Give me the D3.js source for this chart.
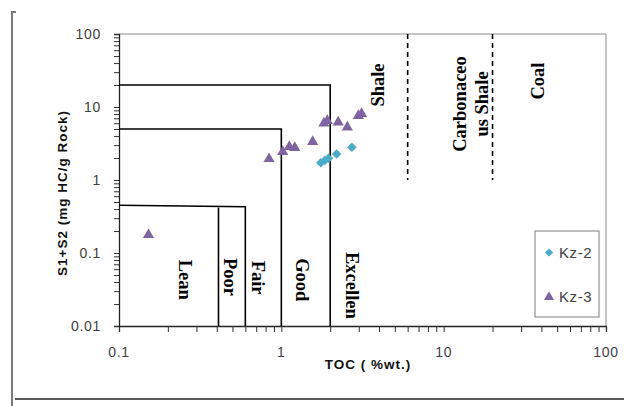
<!DOCTYPE html>
<html>
<head>
<meta charset="utf-8">
<script src="https://cdn.jsdelivr.net/npm/d3@7"></script>
<style>
  html, body { margin: 0; padding: 0; background: #fff; }
  svg { display: block; }
  .tick-lbl { font-family: "Liberation Sans", Arial, sans-serif; font-size: 14px; fill: #404040; letter-spacing: 0.7px; }
  .ax-title { font-family: "Liberation Sans", Arial, sans-serif; font-size: 13.5px; font-weight: bold; fill: #111; letter-spacing: 1px; }
  .zone { font-family: "Liberation Serif", "Times New Roman", serif; font-size: 18.5px; font-weight: bold; fill: #000; }
  .leg { font-family: "Liberation Sans", Arial, sans-serif; font-size: 15px; fill: #404040; letter-spacing: 0.6px; }
</style>
</head>
<body>
<div id="chart"></div>
<script>
/* TOC vs S1+S2 source-rock potential plot */

// samples: TOC (%wt.) and S1+S2 (mg HC/g rock)
var kz2Toc = [1.75, 1.85, 1.95, 2.19, 2.72];
var kz2S = [1.72, 1.85, 1.98, 2.27, 2.81];
var kz3Toc = [0.152, 0.84, 1.02, 1.12, 1.21, 1.56, 1.83, 1.92, 2.24, 2.55, 2.98, 3.12];
var kz3S = [0.177, 1.95, 2.44, 2.86, 2.77, 3.35, 5.98, 6.5, 6.17, 5.27, 7.6, 8.1];

// classification boundaries (TOC, S1+S2)
var solidBounds = [
  [[0.1, 20], [2, 20], [2, 0.01]],
  [[0.1, 5], [1, 5], [1, 0.01]],
  [[0.1, 0.45], [0.6, 0.43], [0.6, 0.01]],
  [[0.41, 0.42], [0.41, 0.01]]
];
var dashedBounds = [
  [[6, 100], [6, 1]],
  [[20, 100], [20, 1]]
];

// zone labels: text lines, TOC, S1+S2 at label centre, reading direction
var zoneText = [["Lean"], ["Poor"], ["Fair"], ["Good"], ["Excellen"], ["Shale"], ["Carbonaceo", "us Shale"], ["Coal"]];
var zoneToc = [0.255, 0.483, 0.719, 1.336, 2.72, 3.95, 14.8, 38.2];
var zoneS = [0.043, 0.047, 0.046, 0.043, 0.036, 20, 11, 22.7];
var zoneDown = [true, true, true, true, true, false, false, false];

var xTicks = [0.1, 1, 10, 100];
var yTicks = [0.01, 0.1, 1, 10, 100];

var W = 624, H = 406;
var svg = d3.select("#chart").append("svg").attr("width", W).attr("height", H);

// outer frame
svg.append("path").attr("d", "M16,12H12V406").attr("fill", "none").attr("stroke", "#7a7a7a").attr("stroke-width", 2);
svg.append("line").attr("x1", 15).attr("x2", 624).attr("y1", 399).attr("y2", 399).attr("stroke", "#222").attr("stroke-width", 1.5);

var x = d3.scaleLog().domain([0.1, 100]).range([119, 606]);
var y = d3.scaleLog().domain([0.01, 100]).range([326, 34]);

// plot border (top, right)
svg.append("path")
  .attr("d", "M" + x.range()[0] + "," + y.range()[1] + "H" + x.range()[1] + "V" + y.range()[0])
  .attr("fill", "none").attr("stroke", "#8c8c8c").attr("stroke-width", 1);

// axes
var xAxis = d3.axisBottom(x).tickValues(d3.range(1, 10).flatMap(function (m) { return [0.1, 1, 10].map(function (p) { return m * p; }); }).concat([100]))
  .tickSize(6).tickFormat("");
var yAxis = d3.axisLeft(y).tickValues(d3.range(1, 10).flatMap(function (m) { return [0.01, 0.1, 1, 10].map(function (p) { return m * p; }); }).concat([100]))
  .tickSize(5).tickFormat("");

var gx = svg.append("g").attr("transform", "translate(0," + y.range()[0] + ")").call(xAxis);
var gy = svg.append("g").attr("transform", "translate(" + x.range()[0] + ",0)").call(yAxis);
[gx, gy].forEach(function (g) {
  g.select(".domain").attr("stroke", "#222").attr("stroke-width", 1.3);
  g.selectAll(".tick line").attr("stroke", "#333");
});

svg.selectAll(".xl").data(xTicks).enter().append("text")
  .attr("class", "tick-lbl").attr("x", function (d) { return x(d); }).attr("y", 357)
  .attr("text-anchor", "middle").text(function (d) { return d; });
svg.selectAll(".yl").data(yTicks).enter().append("text")
  .attr("class", "tick-lbl").attr("x", 101).attr("y", function (d) { return y(d) + 5; })
  .attr("text-anchor", "end").text(function (d) { return d; });

// axis titles
svg.append("text").attr("class", "ax-title").attr("text-anchor", "middle")
  .attr("transform", "translate(67,193) rotate(-90)").text("S1+S2 (mg HC/g Rock)");
svg.append("text").attr("class", "ax-title").attr("text-anchor", "middle")
  .attr("x", 368).attr("y", 369).text("TOC ( %wt.)");

// classification lines
var line = d3.line().x(function (d) { return x(d[0]); }).y(function (d) { return y(d[1]); });
svg.selectAll(".bound").data(solidBounds).enter().append("path")
  .attr("d", line).attr("fill", "none").attr("stroke", "#000").attr("stroke-width", 1.6);
svg.selectAll(".dbound").data(dashedBounds).enter().append("path")
  .attr("d", line).attr("fill", "none").attr("stroke", "#000").attr("stroke-width", 1.6)
  .attr("stroke-dasharray", "5,4");

// zone labels
zoneText.forEach(function (lines, i) {
  var t = svg.append("text").attr("class", "zone").attr("text-anchor", "middle")
    .attr("transform", "translate(" + x(zoneToc[i]) + "," + y(zoneS[i]) + ") rotate(" + (zoneDown[i] ? 90 : -90) + ")");
  var n = lines.length;
  lines.forEach(function (s, j) {
    t.append("tspan").attr("x", 0).attr("y", 6 + (j - (n - 1) / 2) * 22).text(s);
  });
});

// markers
var tri = d3.symbol().type(d3.symbolTriangle).size(54);
var dia = d3.symbol().type(d3.symbolSquare).size(46);
var kz2 = kz2Toc.map(function (t, i) { return [t, kz2S[i]]; });
var kz3 = kz3Toc.map(function (t, i) { return [t, kz3S[i]]; });

svg.selectAll(".kz2").data(kz2).enter().append("path")
  .attr("d", dia).attr("fill", "#4bacc6")
  .attr("transform", function (d) { return "translate(" + x(d[0]) + "," + y(d[1]) + ") rotate(45)"; });
svg.selectAll(".kz3").data(kz3).enter().append("path")
  .attr("d", tri).attr("fill", "#8064a2")
  .attr("transform", function (d) { return "translate(" + x(d[0]) + "," + y(d[1]) + ")"; });

// legend
var leg = svg.append("g").attr("transform", "translate(535,231)");
leg.append("rect").attr("width", 64).attr("height", 86).attr("fill", "#fff").attr("stroke", "#7f7f7f").attr("stroke-width", 1);
leg.append("path").attr("d", d3.symbol().type(d3.symbolSquare).size(34)).attr("fill", "#4bacc6").attr("transform", "translate(14,21.5) rotate(45)");
leg.append("text").attr("class", "leg").attr("x", 24).attr("y", 27).text("Kz-2");
leg.append("path").attr("d", d3.symbol().type(d3.symbolTriangle).size(44)).attr("fill", "#8064a2").attr("transform", "translate(14,66)");
leg.append("text").attr("class", "leg").attr("x", 24).attr("y", 71).text("Kz-3");
</script>
</body>
</html>
